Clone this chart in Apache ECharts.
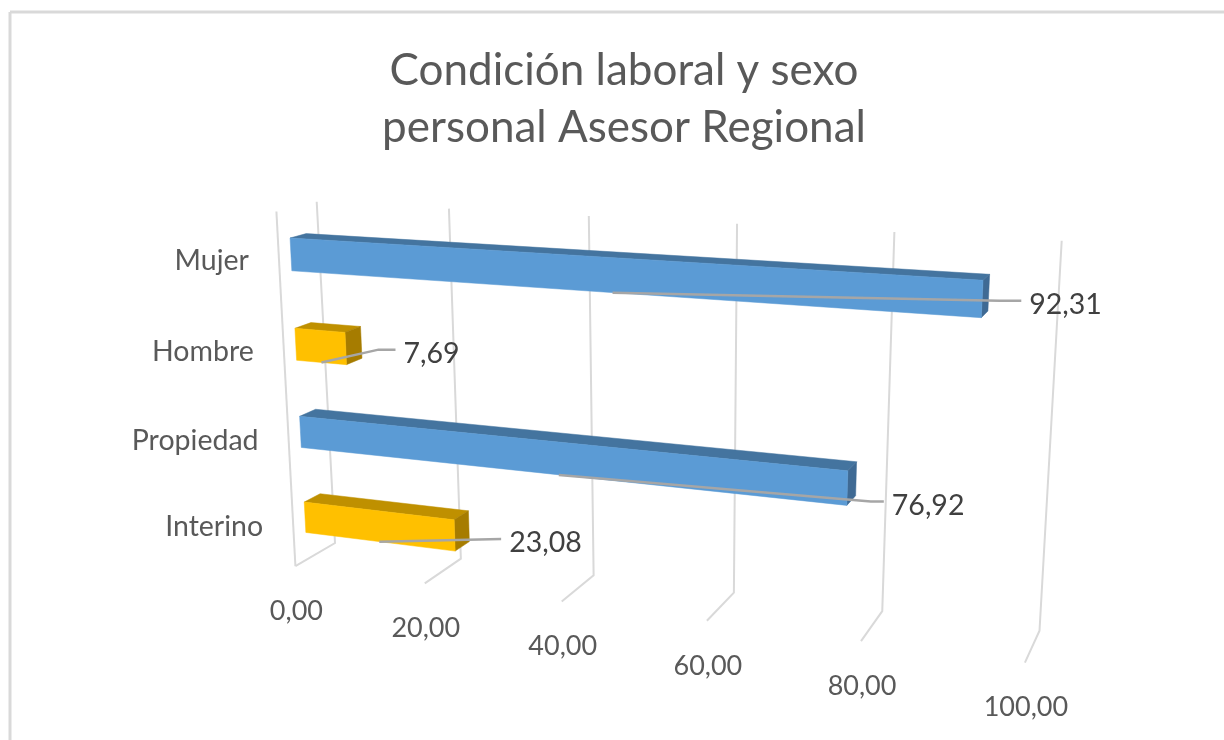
<!DOCTYPE html>
<html>
<head>
<meta charset="utf-8">
<style>
  html, body { margin: 0; padding: 0; background: #fff; }
  #chart { width: 1224px; height: 740px; }
</style>
<script src="https://cdn.jsdelivr.net/npm/echarts@6/dist/echarts.min.js"></script>
</head>
<body>
<div id="chart"></div>
<script>
var categories = ["Interino", "Propiedad", "Hombre", "Mujer"];
var values = [23.08, 76.92, 7.69, 92.31];
var tickValues = [0, 20, 40, 60, 80, 100];
var titleText = "Condición laboral y sexo\npersonal Asesor Regional";

// colours per bar: front, top, side
var barColors = [
  ["#FFC000", "#BF9000", "#A67C00"],
  ["#5B9BD5", "#44749F", "#3F6A94"],
  ["#FFC000", "#BF9000", "#A67C00"],
  ["#5B9BD5", "#44749F", "#3F6A94"]
];
// leader line: elbow dx, end dx, dy from the bar's lower front corner
var leaderOffsets = [[46, 46, -12], [24, 37, -4], [32, 49, -15], [18, 40, -17]];

var font = "Lato, 'Open Sans', sans-serif";
var gray = "#595959";

// back wall of the 3d box, corners
var wall = [[335, 543], [1039.5, 630.7], [1061.7, 240.7], [316.7, 201.7]];
var vanish = [1350, -50];
var barDepth = [0.3, 0.7];
var barRatio = 0.36;

var homography = (function() {
  var x0 = wall[0][0], y0 = wall[0][1], x1 = wall[1][0], y1 = wall[1][1];
  var x2 = wall[2][0], y2 = wall[2][1], x3 = wall[3][0], y3 = wall[3][1];
  var dx1 = x1 - x2, dx2 = x3 - x2, sx = x0 - x1 + x2 - x3;
  var dy1 = y1 - y2, dy2 = y3 - y2, sy = y0 - y1 + y2 - y3;
  var den = dx1 * dy2 - dx2 * dy1;
  var g = (sx * dy2 - dx2 * sy) / den;
  var h = (dx1 * sy - sx * dy1) / den;
  return {
    a: x1 - x0 + g * x1, b: x3 - x0 + h * x3, c: x0,
    d: y1 - y0 + g * y1, e: y3 - y0 + h * y3, f: y0, g: g, h: h
  };
})();

// u along the value axis, v up the category axis, d from back wall to front
function project(u, v, d) {
  var m = homography;
  var w = m.g * u + m.h * v + 1;
  var x = (m.a * u + m.b * v + m.c) / w;
  var y = (m.d * u + m.e * v + m.f) / w;
  var s = 1 + (0.039 + 0.008 * u) * d;
  return [vanish[0] + (x - vanish[0]) * s, vanish[1] + (y - vanish[1]) * s];
}

function toUnit(params, api, value, cat) {
  var cs = params.coordSys;
  var p = api.coord([value, cat]);
  return [(p[0] - cs.x) / cs.width, 1 - (p[1] - cs.y) / cs.height];
}

function formatNum(n) {
  return n.toFixed(2).replace(".", ",");
}

function textItem(text, x, y, align, size, color) {
  return {
    type: "text",
    silent: true,
    style: {
      text: text, x: x, y: y, align: align, verticalAlign: "middle",
      fill: color, font: "400 " + size + "px " + font
    }
  };
}

function renderGrid(params, api) {
  var u = toUnit(params, api, api.value(0), 0)[0];
  var children = [{
    type: "polyline",
    shape: { points: [project(u, 1, 0), project(u, 0, 0), project(u, 0, 1)] },
    style: { fill: null, stroke: "#D9D9D9", lineWidth: 2 }
  }];
  if (api.value(0) === tickValues[0]) {
    children.push({
      type: "line",
      shape: (function() {
        var a = project(u, 1, 1), b = project(u, 0, 1);
        return { x1: a[0], y1: a[1], x2: b[0], y2: b[1] };
      })(),
      style: { stroke: "#D9D9D9", lineWidth: 2 }
    });
  }
  var front = project(u, 0, 1);
  children.push(textItem(formatNum(api.value(0)), front[0] + 1, front[1] + 45, "center", 27, gray));
  return { type: "group", children: children };
}

function renderBar(params, api) {
  var i = params.dataIndex;
  var end = toUnit(params, api, api.value(0), api.value(1));
  var start = toUnit(params, api, 0, api.value(1));
  var half = api.size([0, 1])[1] / params.coordSys.height * barRatio / 2;
  var u0 = start[0], u1 = end[0];
  var v0 = end[1] - half, v1 = end[1] + half;
  var d0 = barDepth[0], d1 = barDepth[1];
  var col = barColors[i];
  var off = leaderOffsets[i];

  function face(points, fill) {
    return { type: "polygon", shape: { points: points }, style: { fill: fill, stroke: fill, lineWidth: 0.5 } };
  }

  var corner = project(u1, v0, d1);
  var midBottom = project(u1 / 2, v0, d1);
  var labelEnd = [corner[0] + off[1], corner[1] + off[2]];
  var wallPoint = project(0, end[1], 1);

  return {
    type: "group",
    children: [
      face([project(u0, v1, d1), project(u1, v1, d1), project(u1, v1, d0), project(u0, v1, d0)], col[1]),
      face([project(u1, v0, d1), project(u1, v1, d1), project(u1, v1, d0), project(u1, v0, d0)], col[2]),
      face([project(u0, v0, d1), project(u1, v0, d1), project(u1, v1, d1), project(u0, v1, d1)], col[0]),
      {
        type: "polyline",
        shape: { points: [midBottom, [corner[0] + off[0], corner[1] + off[2]], labelEnd] },
        style: { fill: null, stroke: "#A6A6A6", lineWidth: 2.5 }
      },
      textItem(formatNum(api.value(0)), labelEnd[0] + 8, labelEnd[1] + 4, "left", 28.5, "#404040"),
      textItem(categories[api.value(1)], wallPoint[0] - 30, wallPoint[1] + 3, "right", 28.5, gray)
    ]
  };
}

var myChart = echarts.init(document.getElementById("chart"));
var option = {
  animation: false,
  backgroundColor: "#fff",
  title: {
    text: titleText,
    left: 624,
    top: 42,
    padding: 0,
    textAlign: "center",
    textStyle: { color: gray, fontFamily: font, fontWeight: 400, fontSize: 44, lineHeight: 57 }
  },
  graphic: [
    { type: "line", shape: { x1: 10, y1: 12, x2: 1224, y2: 12 }, style: { stroke: "#D9D9D9", lineWidth: 3 } },
    { type: "line", shape: { x1: 10, y1: 12, x2: 10, y2: 740 }, style: { stroke: "#D9D9D9", lineWidth: 3 } }
  ],
  grid: { left: 100, top: 100, width: 1000, height: 500 },
  xAxis: { type: "value", min: 0, max: 100, interval: 20, show: false },
  yAxis: { type: "category", data: categories, show: false },
  series: [
    {
      type: "custom",
      clip: false,
      silent: true,
      renderItem: renderGrid,
      data: tickValues.map(function(t) { return [t, 0]; })
    },
    {
      type: "custom",
      clip: false,
      silent: true,
      renderItem: renderBar,
      data: values.map(function(v, i) { return [v, i]; })
    }
  ]
};
myChart.setOption(option);
window.addEventListener("resize", function() {
  myChart.resize();
});
</script>
</body>
</html>
